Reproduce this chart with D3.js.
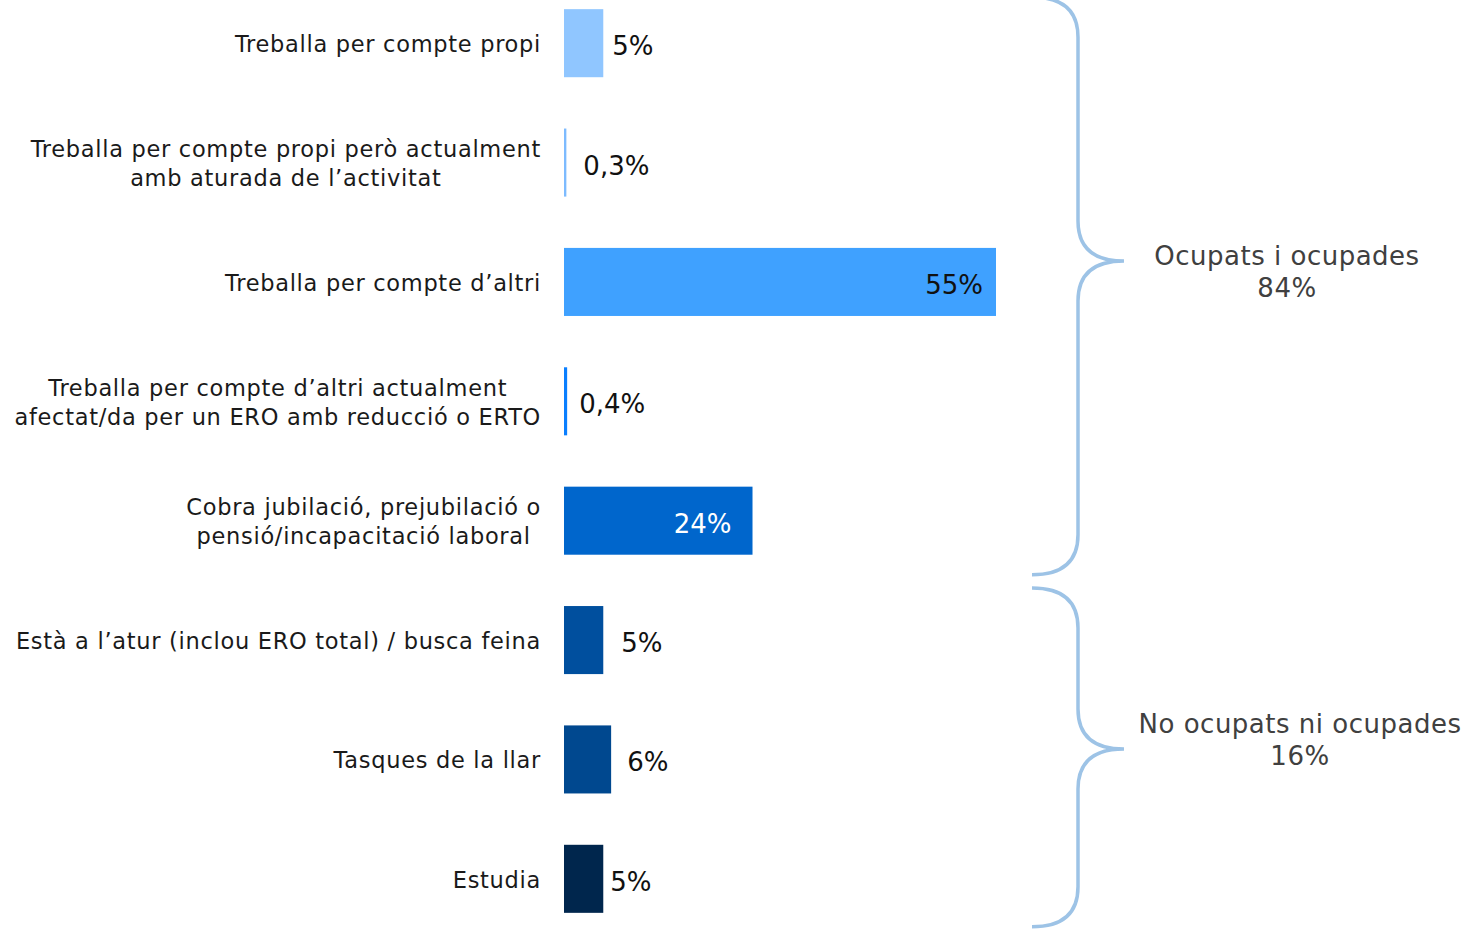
<!DOCTYPE html>
<html>
<head>
<meta charset="utf-8">
<script src="https://cdn.jsdelivr.net/npm/d3@7"></script>
<style>
  html, body { margin: 0; padding: 0; background: #ffffff; }
  svg { display: block; }
</style>
</head>
<body>
<svg id="chart" width="1468" height="929"></svg>
<script>
// Situació laboral: percentatge per categoria
const categories = [
  ["Treballa per compte propi"],
  ["Treballa per compte propi però actualment", "amb aturada de l’activitat"],
  ["Treballa per compte d’altri"],
  ["Treballa per compte d’altri actualment", "afectat/da per un ERO amb reducció o ERTO"],
  ["Cobra jubilació, prejubilació o", "pensió/incapacitació laboral"],
  ["Està a l’atur (inclou ERO total) / busca feina"],
  ["Tasques de la llar"],
  ["Estudia"]
];
const values = [5, 0.3, 55, 0.4, 24, 5, 6, 5];
const barColors = ["#90C6FF", "#7DBBFF", "#3FA1FF", "#0A7FFF", "#0066CC", "#004F9E", "#00488F", "#00264D"];

// Agrupacions (files incloses) i els seus totals
const groupNames = ["Ocupats i ocupades", "No ocupats ni ocupades"];
const groupTotals = [84, 16];
const groupFirstRow = [0, 5];
const groupLastRow = [4, 7];

// Separació de cada etiqueta de valor respecte a l'extrem de la barra
const labelGap = [9, 17, 13, 12, 21, 18, 16, 7];
// Posició del text de cada clau respecte a la seva punta
const groupTextDx = [163, 176];
const groupTextDy = [-5, -25];

const FONT = "'DejaVu Sans', sans-serif";
const svg = d3.select("#chart");

const y = d3.scaleBand()
  .domain(d3.range(values.length))
  .range([-16.5, 938.5])
  .paddingInner(0.43)
  .paddingOuter(0.215);

const x = d3.scaleLinear()
  .domain([0, d3.max(values)])
  .range([564, 996]);

const fmt = v => (v < 1 ? d3.format(".1f")(v).replace(".", ",") : d3.format(".0f")(v)) + "%";

// Barres
svg.append("g").selectAll("rect")
  .data(values)
  .join("rect")
  .attr("x", x(0))
  .attr("y", (d, i) => y(i))
  .attr("width", d => x(d) - x(0))
  .attr("height", y.bandwidth())
  .attr("fill", (d, i) => barColors[i]);

// Etiquetes de valor
svg.append("g").selectAll("text")
  .data(values)
  .join("text")
  .attr("font-family", FONT)
  .attr("font-size", 26)
  .attr("dominant-baseline", "central")
  .attr("y", (d, i) => y(i) + y.bandwidth() / 2 + 3)
  .each(function (d, i) {
    const inside = x(d) - x(0) > 150;
    const c = d3.hsl(barColors[i]);
    d3.select(this)
      .attr("x", inside ? x(d) - labelGap[i] : x(d) + labelGap[i])
      .attr("text-anchor", inside ? "end" : "start")
      .attr("fill", inside && c.l < 0.45 ? "#ffffff" : "#111111")
      .text(fmt(d));
  });

// Etiquetes de categoria: bloc alineat a la dreta, línies centrades entre si
const labelRight = 541;
const lineH = 29;
const catG = svg.append("g");
categories.forEach((lines, i) => {
  const g = catG.append("g");
  const cy = y(i) + y.bandwidth() / 2 + 1;
  const texts = lines.map((t, k) => g.append("text")
    .attr("font-family", FONT)
    .attr("font-size", 22.5)
    .attr("letter-spacing", 0.7)
    .attr("fill", "#1a1a1a")
    .attr("dominant-baseline", "central")
    .attr("text-anchor", "middle")
    .attr("y", cy + (k - (lines.length - 1) / 2) * lineH)
    .text(t));
  const maxW = d3.max(texts, t => t.node().getComputedTextLength());
  texts.forEach(t => t.attr("x", labelRight - maxW / 2));
});

// Claus d'agrupació
const braceX0 = 1032, braceX1 = 1078, braceTip = 1124, r = 40;
const braceG = svg.append("g");
groupNames.forEach((name, gi) => {
  const top = y(groupFirstRow[gi]) - (gi === 0 ? 12 : 18);
  const bot = y(groupLastRow[gi]) + y.bandwidth() + (gi === 0 ? 20 : 14);
  const mid = top + (bot - top) * (gi === 0 ? 0.457 : 0.475);
  const p = d3.path();
  p.moveTo(braceX0, top);
  p.quadraticCurveTo(braceX1, top, braceX1, top + r);
  p.lineTo(braceX1, mid - r);
  p.quadraticCurveTo(braceX1, mid, braceTip, mid);
  p.quadraticCurveTo(braceX1, mid, braceX1, mid + r);
  p.lineTo(braceX1, bot - r);
  p.quadraticCurveTo(braceX1, bot, braceX0, bot);
  braceG.append("path")
    .attr("d", p.toString())
    .attr("fill", "none")
    .attr("stroke", "#9DC3E6")
    .attr("stroke-width", 3.5);

  const cx = braceTip + groupTextDx[gi];
  const ty = mid + groupTextDy[gi];
  const t = braceG.append("text")
    .attr("font-family", FONT)
    .attr("font-size", 26)
    .attr("letter-spacing", 0.5)
    .attr("fill", "#404040")
    .attr("text-anchor", "middle");
  t.append("tspan").attr("x", cx).attr("y", ty).attr("dominant-baseline", "central").text(name);
  t.append("tspan").attr("x", cx).attr("y", ty + 32).attr("dominant-baseline", "central").text(groupTotals[gi] + "%");
});
</script>
</body>
</html>
